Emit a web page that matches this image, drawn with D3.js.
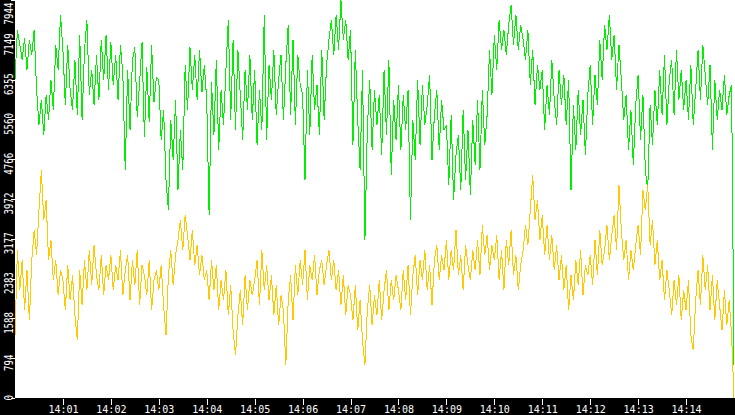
<!DOCTYPE html>
<html>
<head>
<meta charset="utf-8">
<script src="https://cdn.jsdelivr.net/npm/d3@7"></script>
<style>
  html, body { margin: 0; padding: 0; background: #fff; overflow: hidden; }
</style>
</head>
<body>
<div id="chart"></div>
<script>
// samples every 3 s starting at 14:00:00
const startTime = "14:00:00";
const stepSeconds = 3;
const yMax = 7944;

const yTickLabels = ["0", "794", "1588", "2383", "3177", "3972", "4766", "5560", "6355", "7149", "7944"];
const xTickLabels = ["14:01", "14:02", "14:03", "14:04", "14:05", "14:06", "14:07",
                     "14:08", "14:09", "14:10", "14:11", "14:12", "14:13", "14:14"];

const greenValues = [
  6350, 7350, 7050, 6750, 7180, 6550, 7150, 6850, 7350, 6150, 5450, 5950, 5250, 6050, 5550, 6350, 5750, 7050, 6550, 7640,
  6950, 5850, 7050, 6150, 5750, 6750, 5650, 7250, 5550, 6950, 7540, 6050, 6550, 5850, 6850, 5950, 7150, 6350, 7250, 6150,
  7100, 6250, 6850, 5950, 7050, 6450, 4550, 6550, 5350, 6750, 7000, 5600, 6300, 7100, 5200, 6600, 5500, 7050, 5900, 6400,
  6350, 5150, 5750, 4350, 3750, 5550, 4750, 5950, 4150, 5350, 4550, 6650, 5750, 7000, 6150, 6850, 5950, 6950, 6100, 6650,
  5950, 3650, 6300, 5250, 6750, 4950, 6150, 5450, 6550, 7550, 5550, 7150, 5350, 6950, 6050, 5150, 6550, 5750, 6850, 5550,
  6550, 5050, 6150, 5350, 7640, 5150, 6650, 5950, 6950, 5650, 6350, 6850, 5550, 6650, 7450, 5650, 7150, 5450, 6850, 6250,
  6050, 4350, 6550, 5250, 6850, 5750, 6250, 5250, 6950, 5550, 6650, 7150, 7550, 6850, 7650, 6950, 7940, 7150, 7550, 6750,
  7350, 5050, 6950, 5550, 4550, 6550, 3150, 5350, 6350, 4950, 6150, 5450, 6050, 4850, 6550, 5250, 6750, 4450, 5950, 5150,
  6250, 4950, 6050, 5350, 6150, 3550, 5550, 4750, 6350, 5050, 6250, 5450, 5850, 6450, 4750, 5650, 6150, 4950, 5950, 5350,
  5450, 4250, 5650, 3950, 4850, 5250, 4150, 5750, 4350, 5350, 4050, 5550, 4650, 5950, 4550, 6150, 5050, 5650, 6950, 6050,
  7250, 6550, 7550, 6950, 7350, 6850, 7450, 7840, 7050, 7650, 6950, 7450, 7150, 6750, 7350, 6250, 6950, 5850, 6650, 6150,
  6550, 5350, 6250, 5650, 6750, 5950, 5450, 6550, 5850, 6450, 5450, 6350, 4150, 5850, 4950, 6150, 5250, 5950, 4850, 6050,
  6650, 5450, 6450, 5850, 7150, 6350, 7450, 6950, 7650, 6750, 7250, 6150, 7050, 6350, 5550, 6050, 4950, 5750, 4650, 5850,
  6450, 5150, 6050, 4550, 4150, 5850, 5050, 6150, 5450, 6550, 5650, 6850, 5450, 6350, 6750, 5650, 6950, 5950, 6550, 5750,
  6350, 5550, 6650, 5450, 6150, 6950, 5950, 7050, 6450, 5850, 6650, 4950, 6350, 5550, 6150, 5750, 6450, 5650, 6050, 6250,
  660
];

const amberValues = [
  1250, 2950, 2150, 2750, 1750, 2550, 1550, 2750, 3350, 2850, 3750, 4550, 3550, 3950, 2750, 3150, 2350, 2750, 2050, 2550,
  2350, 1750, 2650, 1950, 2450, 1650, 1150, 2550, 1850, 2750, 2150, 2950, 2250, 3050, 2450, 2150, 2850, 2050, 2650, 2350,
  2850, 2150, 2650, 2350, 2950, 2050, 2550, 2850, 1950, 2750, 2250, 2950, 1850, 2650, 2450, 2050, 2750, 1750, 2350, 2550,
  2150, 2650, 1850, 1250, 2450, 2950, 2250, 2850, 3150, 3550, 2950, 3650, 3250, 2750, 3350, 2650, 3050, 2450, 2850, 2350,
  2550, 1950, 2750, 2150, 2650, 1750, 2350, 1950, 2550, 1650, 2250, 1350, 850, 1650, 2150, 1450, 2450, 1750, 2350, 2050,
  2350, 2750, 1850, 2950, 2150, 2650, 1950, 2450, 1650, 2250, 1450, 2050, 1750, 650, 1950, 2450, 1550, 2650, 2050, 2750,
  2250, 2950, 1950, 2650, 2350, 2850, 2050, 2550, 2750, 2250, 2650, 2950, 2350, 2750, 2150, 2550, 1850, 2450, 1650, 2250,
  2050, 1550, 2250, 1350, 1950, 1150, 650, 1750, 2250, 1450, 2050, 1650, 2350, 1550, 2150, 2550, 1750, 2350, 1950, 2450,
  2150, 1750, 2550, 1950, 2650, 1650, 2450, 2850, 2050, 2750, 2350, 2950, 2150, 2650, 1850, 2750, 3050, 2350, 2850, 2550,
  3150, 2350, 2950, 2550, 3350, 2450, 2850, 2150, 3050, 2650, 2350, 2950, 2550, 3150, 2450, 3450, 2850, 3250, 2550, 3050,
  2750, 3250, 2350, 2950, 2150, 3150, 2650, 3350, 2450, 2850, 2150, 2650, 2950, 3450, 3050, 3750, 4450, 3550, 3950, 3150,
  3650, 2850, 3450, 2750, 3250, 2550, 3050, 2350, 2850, 2150, 2650, 1750, 2450, 1950, 2750, 2250, 2950, 2050, 2650, 2450,
  2850, 2250, 3150, 2450, 3350, 2650, 2950, 3450, 2750, 3250, 3650, 2950, 4250, 3350, 2750, 3150, 2350, 2950, 2550, 3050,
  3450, 2850, 4150, 3750, 4250, 3050, 3550, 2650, 3150, 2350, 2750, 1950, 2550, 2150, 1650, 2350, 1850, 2450, 1550, 2150,
  1750, 2350, 1250, 950, 1950, 2550, 1850, 2850, 2150, 2650, 1750, 2450, 1550, 2350, 1850, 1350, 2150, 1450, 1950, 1250,
  0
];

const width = 735, height = 415;
const plotLeft = 15, plotBottom = 398;

const parseTime = d3.timeParse("%H:%M:%S");
const t0 = parseTime(startTime);

const x = d3.scaleTime()
    .domain([t0, d3.timeMinute.offset(t0, 15)])
    .range([plotLeft, width - 1]);

const y = d3.scaleLinear()
    .domain([0, yMax])
    .range([plotBottom, 0]);

const svg = d3.select("#chart")
    .append("svg")
    .attr("width", width)
    .attr("height", height)
    .style("display", "block");

const line = d3.line()
    .x((d, i) => x(d3.timeSecond.offset(t0, i * stepSeconds)))
    .y(d => y(d));

svg.append("path")
    .datum(greenValues)
    .attr("d", line)
    .attr("fill", "none")
    .attr("stroke", "#00ee00")
    .attr("stroke-width", 1)
    .attr("shape-rendering", "crispEdges");

svg.append("path")
    .datum(amberValues)
    .attr("d", line)
    .attr("fill", "none")
    .attr("stroke", "#ffc800")
    .attr("stroke-width", 1)
    .attr("shape-rendering", "crispEdges");

// black axis bands
svg.append("rect")
    .attr("x", 0).attr("y", plotBottom)
    .attr("width", width).attr("height", height - plotBottom)
    .attr("fill", "#000");
svg.append("rect")
    .attr("x", 0).attr("y", 0)
    .attr("width", plotLeft).attr("height", height)
    .attr("fill", "#000");

// bottom axis
const xTicks = xTickLabels.map(s => parseTime(s + ":00"));
const xAxis = svg.append("g")
    .attr("transform", "translate(0," + (plotBottom + 1) + ")")
    .call(d3.axisBottom(x)
        .tickValues(xTicks)
        .tickFormat((d, i) => xTickLabels[i])
        .tickSize(6)
        .tickPadding(1));
xAxis.select(".domain").remove();
xAxis.selectAll("line").attr("stroke", "#fff").attr("shape-rendering", "crispEdges");
xAxis.selectAll("text")
    .attr("fill", "#fff")
    .style("font-family", "'DejaVu Sans Mono', monospace")
    .style("font-size", "10px");

// left axis, labels rotated and kept inside the band
const yTicks = yTickLabels.map((s, i) => i * yMax / 10);
const yAxis = svg.append("g")
    .attr("transform", "translate(" + plotLeft + ",0)")
    .call(d3.axisLeft(y)
        .tickValues(yTicks)
        .tickFormat((d, i) => yTickLabels[i])
        .tickSize(4));
yAxis.select(".domain").remove();
yAxis.selectAll("line").attr("stroke", "#fff").attr("shape-rendering", "crispEdges");
yAxis.selectAll("text")
    .attr("x", null).attr("dy", null)
    .attr("fill", "#fff")
    .attr("text-anchor", "middle")
    .style("font-family", "'DejaVu Sans Mono', monospace")
    .style("font-size", "13px")
    .attr("transform", function(d, i) {
        var half = yTickLabels[i].length * 5.5 / 2;
        var cy = y(d) + 4;
        cy = Math.max(2 + half, Math.min(400 - half, cy));
        return "translate(-2.5," + (cy - y(d)) + ") rotate(-90) scale(0.7,1)";
    });
</script>
</body>
</html>
